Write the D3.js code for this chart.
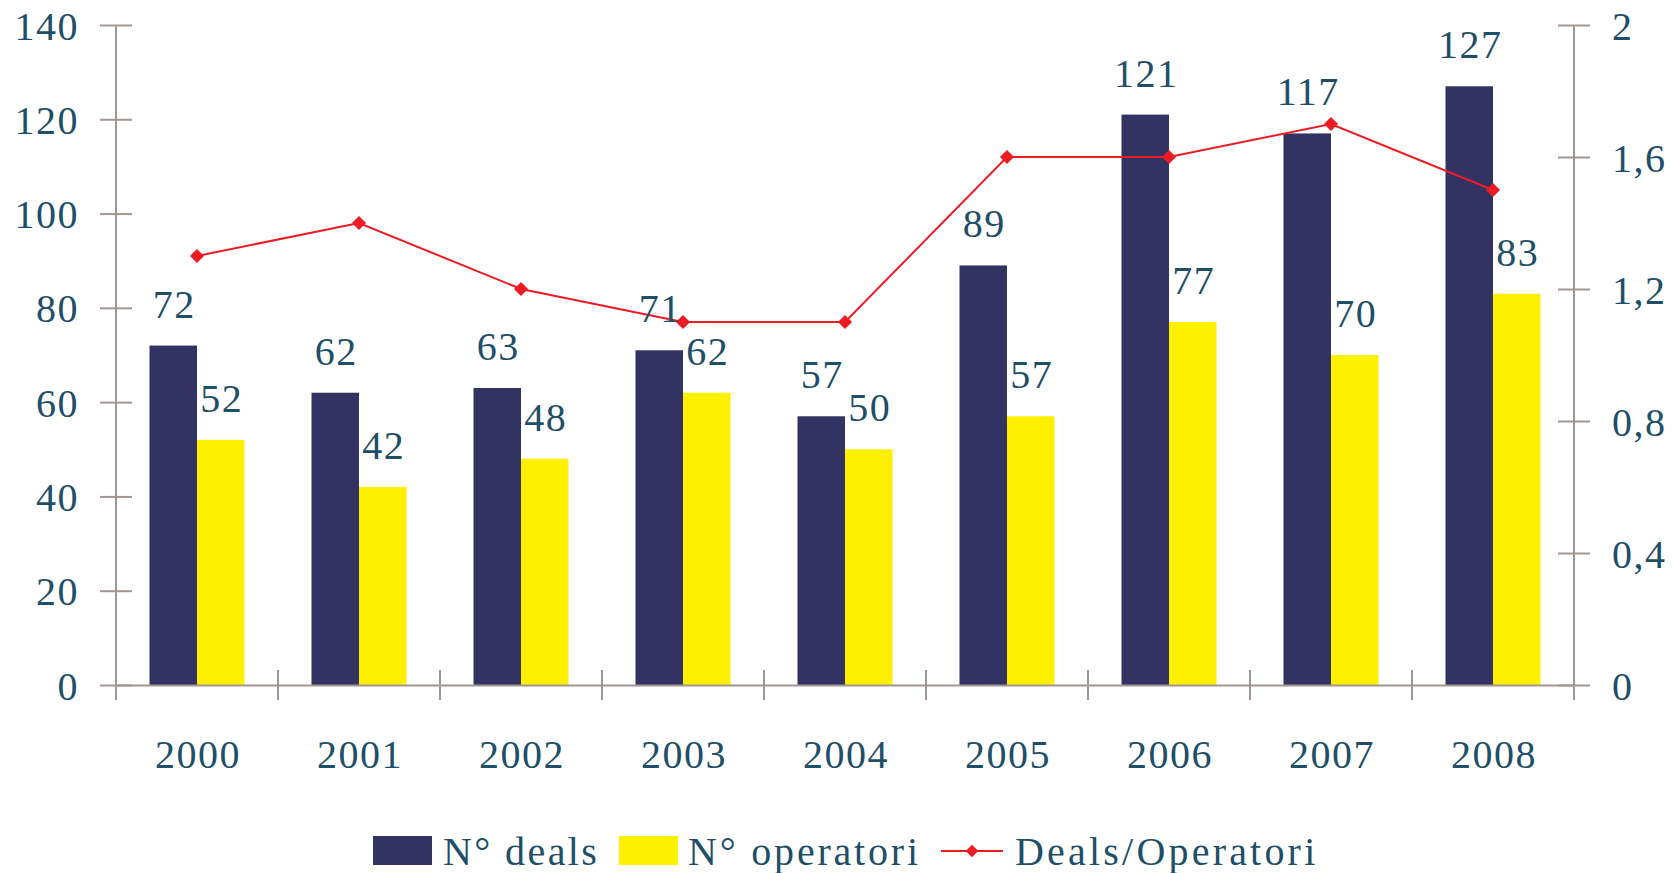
<!DOCTYPE html>
<html>
<head>
<meta charset="utf-8">
<script src="https://cdn.jsdelivr.net/npm/d3@7"></script>
<style>
  html, body { margin: 0; padding: 0; background: #fff; }
  svg { display: block; }
  text { font-family: "Liberation Serif", "Times New Roman", serif; }
</style>
</head>
<body>
<svg id="chart" width="1673" height="873"></svg>
<script>
const years = ["2000","2001","2002","2003","2004","2005","2006","2007","2008"];
const deals = [72, 62, 63, 71, 57, 89, 121, 117, 127];
const operatori = [52, 42, 48, 62, 50, 57, 77, 70, 83];
const ratio = [1.3, 1.4, 1.2, 1.1, 1.1, 1.6, 1.6, 1.7, 1.5];
const leftTicks = [0, 20, 40, 60, 80, 100, 120, 140];
const rightTicks = [0, 0.4, 0.8, 1.2, 1.6, 2];
const seriesNames = ["N° deals", "N° operatori", "Deals/Operatori"];

(function () {
const colNavy = "#333363", colYellow = "#FFF000", colRed = "#ED1C24";
const textCol = "#1F4F68", axisCol = "#A29692";
const fontSize = 40;

const svg = d3.select("#chart");
const pLeft = 116, pRight = 1574, pTop = 25, pBottom = 685;

const x = d3.scaleBand().domain(years).range([pLeft, pRight]).padding(0);
const yL = d3.scaleLinear().domain([0, 140]).range([pBottom, pTop]);
const yR = d3.scaleLinear().domain([0, 2]).range([pBottom, pTop]);
const barW = 47.5;

const axisL = d3.axisLeft(yL).tickValues(leftTicks).tickSize(16).tickSizeOuter(0).tickFormat(d3.format("d"));
const axisR = d3.axisRight(yR).tickValues(rightTicks).tickSize(16).tickSizeOuter(0).tickFormat(d => String(d).replace(".", ","));
const axisB = d3.axisBottom(x).tickSize(0).tickSizeOuter(0);

function styleAxis(g) {
  g.select(".domain").attr("stroke", axisCol).attr("stroke-width", 2);
  g.selectAll(".tick line").attr("stroke", axisCol).attr("stroke-width", 2);
  g.selectAll(".tick text").attr("fill", textCol).attr("font-size", fontSize)
    .attr("font-family", "Liberation Serif, serif").attr("letter-spacing", 1.5);
}

const cx = d => x(d) + x.bandwidth() / 2;

// bars
svg.append("g").selectAll("rect").data(years).enter().append("rect")
  .attr("x", (d) => cx(d) - barW).attr("width", barW)
  .attr("y", (d, i) => yL(deals[i])).attr("height", (d, i) => pBottom - yL(deals[i]))
  .attr("fill", colNavy);
svg.append("g").selectAll("rect").data(years).enter().append("rect")
  .attr("x", (d) => cx(d)).attr("width", barW)
  .attr("y", (d, i) => yL(operatori[i])).attr("height", (d, i) => pBottom - yL(operatori[i]))
  .attr("fill", colYellow);

const gL = svg.append("g").attr("transform", `translate(${pLeft},0)`).call(axisL);
styleAxis(gL);
gL.selectAll(".tick line").attr("x1", 16).attr("x2", -16);
gL.selectAll(".tick text").attr("x", -37).attr("dy", "0.35em");
gL.select(".domain").attr("d", `M0,${pTop}V${pBottom + 15}`);

const gR = svg.append("g").attr("transform", `translate(${pRight},0)`).call(axisR);
styleAxis(gR);
gR.selectAll(".tick line").attr("x1", -16).attr("x2", 16);
gR.selectAll(".tick text").attr("x", 38).attr("dy", "0.35em");
gR.select(".domain").attr("d", `M0,${pTop}V${pBottom + 15}`);

const gB = svg.append("g").attr("transform", `translate(0,${pBottom})`).call(axisB);
styleAxis(gB);
gB.selectAll(".tick text").attr("y", 83).attr("dy", 0).attr("dx", 1);
const bounds = years.map(y => x(y)).concat([pRight]);
gB.selectAll(".bound").data(bounds).enter().append("line")
  .attr("x1", d => d).attr("x2", d => d).attr("y1", -15).attr("y2", 15)
  .attr("stroke", axisCol).attr("stroke-width", 2);

// line
const line = d3.line().x((d, i) => cx(years[i])).y(d => yR(d));
svg.append("path").datum(ratio).attr("d", line).attr("fill", "none")
  .attr("stroke", colRed).attr("stroke-width", 2);
svg.append("g").selectAll("path").data(ratio).enter().append("path")
  .attr("d", d3.symbol().type(d3.symbolSquare).size(100))
  .attr("transform", (d, i) => `translate(${cx(years[i])},${yR(d)}) rotate(45)`)
  .attr("fill", colRed);

// value labels
svg.append("g").selectAll("text").data(years).enter().append("text")
  .attr("x", d => cx(d) - barW / 2 + 1).attr("y", (d, i) => yL(deals[i]) - 28)
  .attr("text-anchor", "middle").attr("fill", textCol).attr("font-size", fontSize)
  .attr("letter-spacing", 1.5)
  .text((d, i) => deals[i]);
svg.append("g").selectAll("text").data(years).enter().append("text")
  .attr("x", d => cx(d) + barW / 2 + 1).attr("y", (d, i) => yL(operatori[i]) - 28)
  .attr("text-anchor", "middle").attr("fill", textCol).attr("font-size", fontSize)
  .attr("letter-spacing", 1.5)
  .text((d, i) => operatori[i]);

// legend
const lg = svg.append("g");
const ly = 851;
let lx = 373;
lg.append("rect").attr("x", lx).attr("y", ly - 15).attr("width", 59).attr("height", 29).attr("fill", colNavy);
lg.append("text").attr("x", lx + 70).attr("y", ly + 14).attr("fill", textCol).attr("font-size", fontSize)
  .attr("letter-spacing", 2.4).text(seriesNames[0]);
lx = 619;
lg.append("rect").attr("x", lx).attr("y", ly - 15).attr("width", 59).attr("height", 29).attr("fill", colYellow);
lg.append("text").attr("x", lx + 69).attr("y", ly + 14).attr("fill", textCol).attr("font-size", fontSize)
  .attr("letter-spacing", 2.8).text(seriesNames[1]);
lx = 941;
lg.append("line").attr("x1", lx).attr("x2", lx + 62).attr("y1", ly).attr("y2", ly).attr("stroke", colRed).attr("stroke-width", 2);
lg.append("path").attr("d", d3.symbol().type(d3.symbolSquare).size(80)).attr("transform", `translate(${lx + 31},${ly}) rotate(45)`).attr("fill", colRed);
lg.append("text").attr("x", 1015).attr("y", ly + 14).attr("fill", textCol).attr("font-size", fontSize)
  .attr("letter-spacing", 3.2).text(seriesNames[2]);
})();
</script>
</body>
</html>
